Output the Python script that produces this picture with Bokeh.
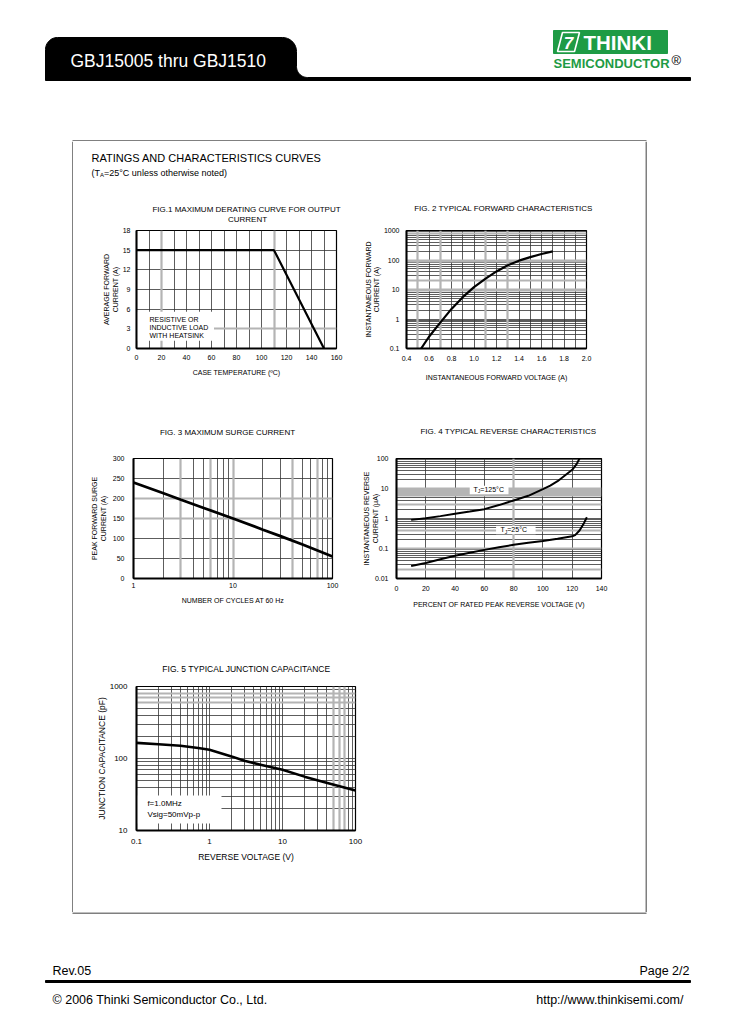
import numpy as np
from bokeh.plotting import figure
from bokeh.layouts import column, row
from bokeh.models import (Range1d, FixedTicker, CustomJSTickFormatter, Grid, Label,
                          BoxAnnotation, Spacer)
from bokeh.core.properties import value
from bokeh.embed import file_html
from bokeh.resources import INLINE

FONT = "Liberation Sans"

# ---------------- data ----------------
# Fig.1 derating curve
FIG1_TEMP = [0, 110, 150]
FIG1_CURRENT = [15, 15, 0]
FIG1_XTICKS = [0, 20, 40, 60, 80, 100, 120, 140, 160]
FIG1_YTICKS = [0, 3, 6, 9, 12, 15, 18]

# Fig.2 forward characteristics
FIG2_VF = [0.53, 0.6, 0.7, 0.8, 0.9, 1.0, 1.1, 1.2, 1.3, 1.4, 1.5, 1.6, 1.7]
FIG2_IF = [0.1, 0.25, 0.75, 2.2, 5.5, 12, 23, 41, 66, 95, 125, 160, 195]
FIG2_XTICKS = [0.4, 0.6, 0.8, 1.0, 1.2, 1.4, 1.6, 1.8, 2.0]
FIG2_YTICKS = [0.1, 1, 10, 100, 1000]

# Fig.3 surge current
FIG3_CYCLES = [1, 2, 3, 5, 10, 20, 30, 50, 100]
FIG3_IFSM = [240, 213, 197, 177, 150, 122, 106, 85, 55]
FIG3_XTICKS = [1, 10, 100]
FIG3_YTICKS = [0, 50, 100, 150, 200, 250, 300]

# Fig.4 reverse characteristics
FIG4_PCT_125 = [10, 20, 30, 40, 50, 60, 70, 80, 90, 100, 105, 110, 115, 120, 123, 125]
FIG4_IR_125 = [0.9, 1.02, 1.2, 1.45, 1.7, 2.05, 2.8, 4.0, 5.7, 9.5, 12.5, 17.5, 27, 42, 65, 100]
FIG4_PCT_25 = [10, 20, 30, 40, 50, 60, 70, 80, 90, 100, 110, 120, 122, 125, 128, 130]
FIG4_IR_25 = [0.026, 0.033, 0.044, 0.057, 0.072, 0.09, 0.11, 0.133, 0.155, 0.178, 0.21,
              0.255, 0.28, 0.4, 0.7, 1.1]
FIG4_XTICKS = [0, 20, 40, 60, 80, 100, 120, 140]
FIG4_YTICKS = [0.01, 0.1, 1, 10, 100]

# Fig.5 junction capacitance
FIG5_VR = [0.1, 0.2, 0.4, 0.7, 1, 2, 3, 5, 10, 20, 40, 100]
FIG5_CJ = [165, 158, 150, 140, 132, 107, 93, 82, 70, 56, 46, 36]
FIG5_XTICKS = [0.1, 1, 10, 100]
FIG5_YTICKS = [10, 100, 1000]

GRID_DARK = "#333333"
GRID_GRAY = "#b4b4b4"


def log_lines(lo, hi):
    out = [k * 10.0 ** e for e in range(lo, hi) for k in range(1, 10)]
    return out + [10.0 ** hi]


def without(lines, gray):
    return [v for v in lines if not any(np.isclose(v, g) for g in gray)]


def page_fig(w, h, xr, yr):
    p = figure(width=w, height=h, x_range=Range1d(*xr), y_range=Range1d(*yr),
               toolbar_location=None, output_backend="svg", min_border=0,
               x_axis_location=None, y_axis_location=None)
    p.grid.visible = False
    p.outline_line_color = None
    p.background_fill_color = "white"
    p.border_fill_color = "white"
    return p


def txt(p, x, y, s, size, align="left", color="black", style="normal",
        baseline="middle", font=FONT):
    p.text(x=[x], y=[y], text=[s], text_font=value(font), text_font_size=size,
           text_align=align, text_baseline=baseline, text_color=color,
           text_font_style=value(style))


def chart(w, h, xr, yr, mb, xtype="linear", ytype="linear"):
    p = figure(width=w, height=h, x_range=Range1d(*xr), y_range=Range1d(*yr),
               x_axis_type=xtype, y_axis_type=ytype, toolbar_location=None,
               output_backend="svg", min_border_left=mb[0], min_border_right=mb[1],
               min_border_top=mb[2], min_border_bottom=mb[3])
    p.title.visible = False
    p.outline_line_color = "black"
    p.outline_line_width = 1.2
    p.background_fill_color = "white"
    p.border_fill_color = "white"
    return p


def axes(p, xticks, yticks, xlabel, ylabel, tick_px, lab_px, xst, xlst, yst, ylst,
         xfmt=None, yfmt=None):
    for ax, ticks, lab, st, lst, fmt in ((p.xaxis[0], xticks, xlabel, xst, xlst, xfmt),
                                          (p.yaxis[0], yticks, ylabel, yst, ylst, yfmt)):
        ax.ticker = FixedTicker(ticks=ticks)
        if fmt is not None:
            ax.formatter = CustomJSTickFormatter(code=fmt)
        ax.axis_line_width = 2
        ax.axis_line_color = "black"
        ax.major_tick_out = 0
        ax.major_tick_in = 0
        ax.minor_tick_out = 0
        ax.minor_tick_in = 0
        ax.major_label_text_font = FONT
        ax.major_label_text_font_size = tick_px
        ax.major_label_text_color = "black"
        ax.major_label_standoff = st
        ax.axis_label = lab
        ax.axis_label_text_font = FONT
        ax.axis_label_text_font_size = lab_px
        ax.axis_label_text_font_style = "normal"
        ax.axis_label_text_color = "black"
        ax.axis_label_standoff = lst


def grids(p, xlines, ylines, xgray, ygray):
    p.xgrid.ticker = FixedTicker(ticks=without(xlines, xgray))
    p.ygrid.ticker = FixedTicker(ticks=without(ylines, ygray))
    for g in (p.xgrid[0], p.ygrid[0]):
        g.grid_line_color = GRID_DARK
        g.grid_line_width = 0.8
    if xgray:
        p.add_layout(Grid(dimension=0, ticker=FixedTicker(ticks=xgray),
                          grid_line_color=GRID_GRAY, grid_line_width=2.2))
    if ygray:
        p.add_layout(Grid(dimension=1, ticker=FixedTicker(ticks=ygray),
                          grid_line_color=GRID_GRAY, grid_line_width=2.2))


def white_box(p, l, r, b, t):
    p.add_layout(BoxAnnotation(left=l, right=r, bottom=b, top=t, fill_color="white",
                               fill_alpha=1.0, line_color=None, level="glyph"))


def label(p, x, y, s, size, xo=0, yo=0, baseline="middle", lh=1.2):
    p.add_layout(Label(x=x, y=y, text=s, text_font=FONT, text_font_size=size,
                       x_offset=xo, y_offset=yo, text_baseline=baseline,
                       text_align="left", text_color="black", text_line_height=lh))


TO_STR = "return String(tick);"

# ---------------- header ----------------
hdr = page_fig(729, 141, (0, 729), (141, 0))


def arc(cx, cy, r, a0, a1, n=14):
    t = np.radians(np.linspace(a0, a1, n))
    return list(cx + r * np.cos(t)), list(cy + r * np.sin(t))


tx, ty = [45], [80]
ax_, ay_ = arc(57, 49, 12, 180, 270)
tx += ax_; ty += ay_
ax_, ay_ = arc(282, 51, 14, 270, 360)
tx += ax_; ty += ay_
ax_, ay_ = arc(307, 66, 11, 180, 90)
tx += ax_; ty += ay_
tx += [690, 690, 45]
ty += [77, 80, 80]
hdr.patch(tx, ty, color="black")
txt(hdr, 70, 60, "GBJ15005 thru GBJ1510", "17.5px", color="white")

GREEN = "#1e9b45"
hdr.quad(left=553, right=667, top=30, bottom=53, color=GREEN)
hdr.patch([557, 562, 579, 574], [51, 32, 32, 51], fill_color=GREEN, line_color="white",
          line_width=1.6)
txt(hdr, 568, 42, "7", "17px", align="center", color="white", style="bold italic")
txt(hdr, 583, 42, "THINKI", "20.5px", color="white", style="bold")
txt(hdr, 553, 62.5, "SEMICONDUCTOR", "13px", color=GREEN, style="bold")
txt(hdr, 671, 60, "®", "13px")
hdr.line([72, 646], [140.5, 140.5], color="black", line_width=1)

# ---------------- side edges of the box ----------------
left_edge = page_fig(73, 771, (0, 73), (912, 141))
left_edge.line([72.5, 72.5], [141, 912], color="black", line_width=1)
right_edge = page_fig(83, 771, (645, 728), (912, 141))
right_edge.line([645.5, 645.5], [141, 912], color="black", line_width=1)

# ---------------- strips with texts ----------------
s1 = page_fig(572, 82, (73, 645), (223, 141))
txt(s1, 91, 157, "RATINGS AND CHARACTERISTICS CURVES", "11px")
txt(s1, 91, 172, "(T", "9px")
txt(s1, 99.5, 174.5, "A", "6px")
txt(s1, 103.5, 172, "=25°C unless otherwise noted)", "9px")
txt(s1, 246, 209, "FIG.1 MAXIMUM DERATING CURVE FOR OUTPUT", "8px", align="center")
txt(s1, 247, 218.5, "CURRENT", "8px", align="center")
txt(s1, 503, 208, "FIG. 2 TYPICAL FORWARD CHARACTERISTICS", "8px", align="center")

s2 = page_fig(572, 34, (73, 645), (446, 412))
txt(s2, 227, 432, "FIG. 3 MAXIMUM SURGE CURRENT", "8px", align="center")
txt(s2, 508, 431, "FIG. 4 TYPICAL REVERSE CHARACTERISTICS", "8px", align="center")

s3 = page_fig(572, 48, (73, 645), (678, 630))
txt(s3, 246, 668, "FIG. 5 TYPICAL JUNCTION CAPACITANCE", "8.5px", align="center")

# ---------------- Fig.1 ----------------
p1 = chart(286, 189, (0, 160), (0, 18), (63, 23, 7, 64))
axes(p1, FIG1_XTICKS, FIG1_YTICKS, "CASE TEMPERATURE (ºC)", "AVERAGE FORWARD\nCURRENT (A)",
     "7px", "7px", 6, 6, 6, 1)
grids(p1, list(range(10, 160, 10)), [3, 6, 9, 12, 15], [20, 110], [3])
white_box(p1, 0, 62, 1.2, 5.6)
label(p1, 10.4, 4.96, "RESISTIVE OR\nINDUCTIVE LOAD\nWITH HEATSINK", "7px", baseline="top",
      lh=1.15)
p1.line(FIG1_TEMP, FIG1_CURRENT, line_width=2.2, color="black")

# ---------------- Fig.2 ----------------
p2 = chart(286, 189, (0.4, 2.0), (0.1, 1000), (47, 59, 4, 39), ytype="log")
axes(p2, FIG2_XTICKS, FIG2_YTICKS, "INSTANTANEOUS FORWARD VOLTAGE (A)",
     "INSTANTANEOUS FORWARD\nCURRENT (A)", "7px", "7px", 7, 10, 7, 1,
     xfmt="return tick.toFixed(1);", yfmt=TO_STR)
grids(p2, [round(0.4 + 0.1 * i, 1) for i in range(1, 16)], log_lines(-1, 3),
      [0.5, 0.7, 1.1, 1.3], [800, 100, 90, 20, 10, 9])
p2.line(FIG2_VF, FIG2_IF, line_width=2.2, color="black", line_join="round")

# ---------------- Fig.3 ----------------
p3 = chart(286, 184, (1, 100), (0, 300), (60, 27, 12, 52), xtype="log")
axes(p3, FIG3_XTICKS, FIG3_YTICKS, "NUMBER OF CYCLES AT 60 Hz",
     "PEAK FORWARD SURGE\nCURRENT (A)", "7px", "7px", 4, 6, 9, 3, xfmt=TO_STR)
grids(p3, log_lines(0, 2), [50, 100, 150, 200, 250], [3, 6, 10, 40, 70], [200, 150])
p3.line(FIG3_CYCLES, FIG3_IFSM, line_width=2.8, color="black")

# ---------------- Fig.4 ----------------
p4 = chart(286, 184, (0, 140), (0.01, 100), (37, 44, 6, 37), ytype="log")
axes(p4, FIG4_XTICKS, FIG4_YTICKS, "PERCENT OF RATED PEAK REVERSE VOLTAGE (V)",
     "INSTANTANEOUS REVERSE\nCURRENT (µA)", "7px", "7px", 7, 7, 8, -7, yfmt=TO_STR)
grids(p4, [20, 40, 60, 80, 100, 120], log_lines(-2, 2), [80],
      [10, 9, 8, 7, 6, 3, 0.4, 0.1, 0.02])
white_box(p4, 50, 76.5, 6.4, 12.4)
white_box(p4, 68, 95, 0.3, 0.57)
label(p4, 52.6, 9.5, "T", "7px")
label(p4, 52.6, 9.5, "J", "5px", xo=4.2, yo=-2)
label(p4, 52.6, 9.5, "=125°C", "7px", xo=6.8)
label(p4, 71.0, 0.42, "T", "7px")
label(p4, 71.0, 0.42, "J", "5px", xo=4.2, yo=-2)
label(p4, 71.0, 0.42, "=25°C", "7px", xo=6.8)
p4.line(FIG4_PCT_125, FIG4_IR_125, line_width=2.0, color="black", line_join="round")
p4.line(FIG4_PCT_25, FIG4_IR_25, line_width=2.0, color="black", line_join="round")

# ---------------- Fig.5 ----------------
p5 = chart(300, 234, (0.1, 100), (10, 1000), (63, 18, 8, 82), xtype="log", ytype="log")
axes(p5, FIG5_XTICKS, FIG5_YTICKS, "REVERSE VOLTAGE (V)", "JUNCTION CAPACITANCE (pF)",
     "8px", "8.5px", 8, 5, 9, 0, xfmt=TO_STR, yfmt=TO_STR)
grids(p5, log_lines(-1, 2), log_lines(1, 3), [50, 60, 70], [600, 700, 800])
white_box(p5, 0.1, 1.46, 12.5, 30.7)
label(p5, 0.141, 27.4, "f=1.0MHz\nVsig=50mVp-p", "8px", baseline="top", lh=1.25)
p5.line(FIG5_VR, FIG5_CJ, line_width=2.6, color="black", line_join="round")

# ---------------- footer ----------------
ftr = page_fig(729, 119, (0, 729), (1031, 912))
ftr.line([72, 646], [912.5, 912.5], color="black", line_width=1)
txt(ftr, 52, 970, "Rev.05", "12.5px")
txt(ftr, 689, 970, "Page 2/2", "12.5px", align="right")
ftr.quad(left=45, right=690, top=980, bottom=982, color="black")
txt(ftr, 52, 999, "© 2006 Thinki Semiconductor Co., Ltd.", "12.5px")
txt(ftr, 683, 999, "http://www.thinkisemi.com/", "12.5px", align="right")

middle = column(s1, row(p1, p2), s2, row(p3, p4), s3,
                row(p5, Spacer(width=272, height=234)))
page = column(hdr, row(left_edge, middle, right_edge), ftr)

open("out.html", "w").write(file_html(page, INLINE))
